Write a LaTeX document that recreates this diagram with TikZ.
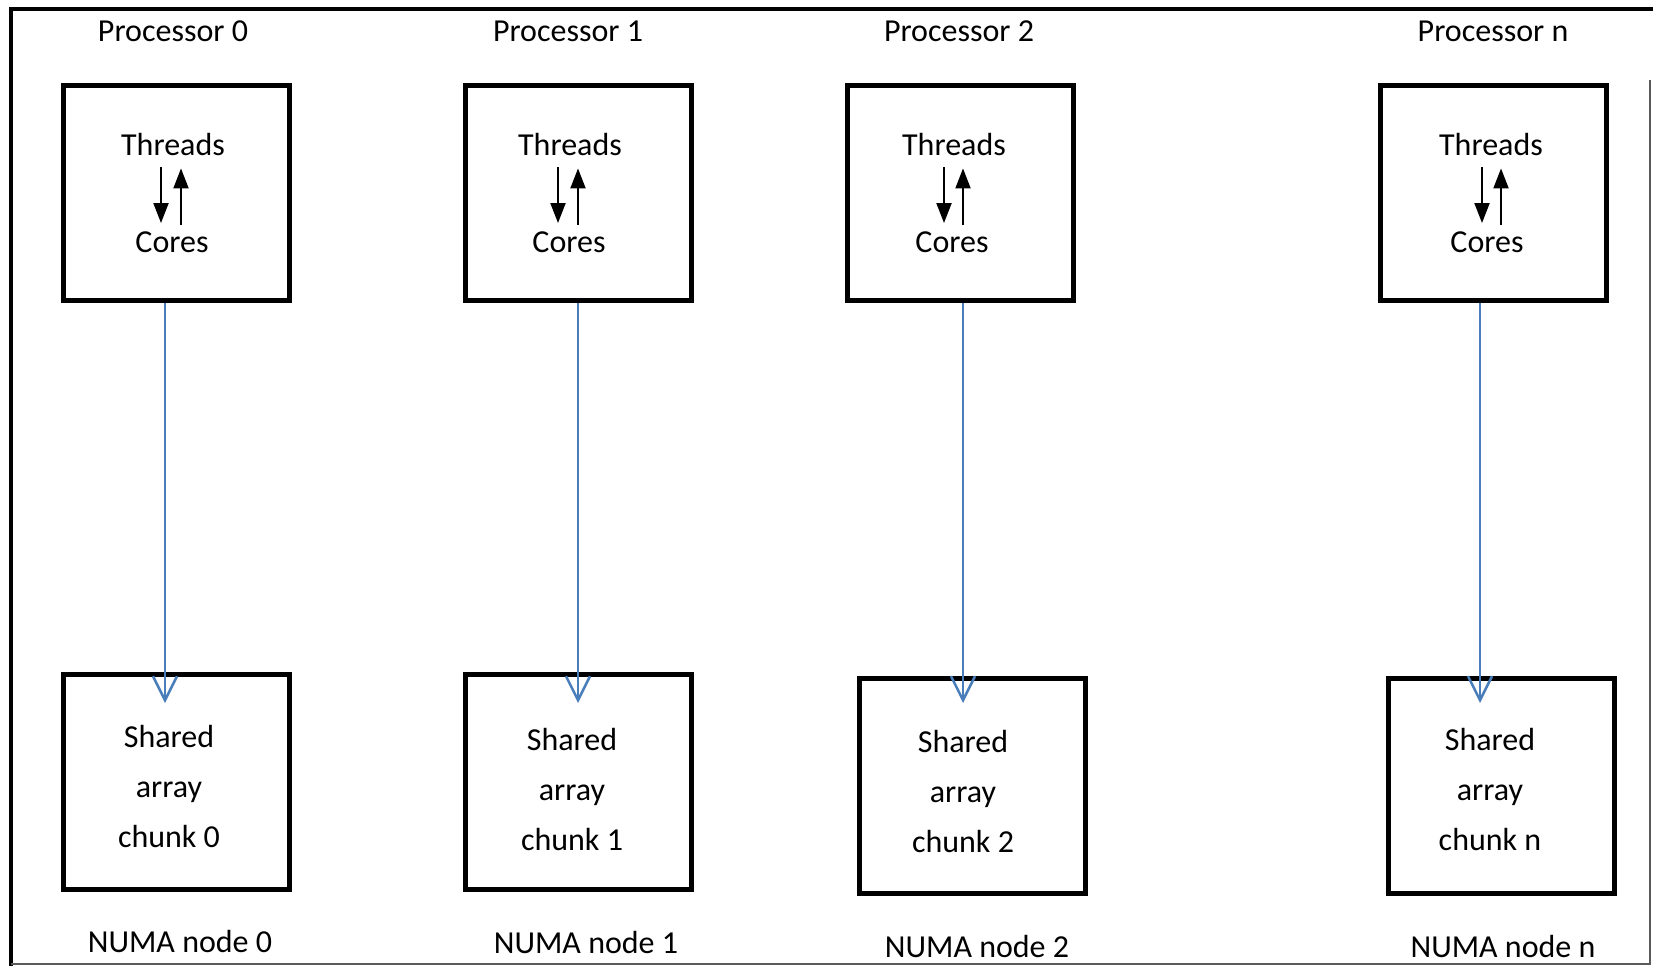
\documentclass[tikz,border=0pt]{standalone}
\usepackage{fontspec}
\setmainfont{Carlito}
\usetikzlibrary{arrows.meta}
\definecolor{linkblue}{RGB}{74,126,187}
\definecolor{framegray}{RGB}{90,90,90}

\begin{document}
\begin{tikzpicture}[x=1pt,y=-1pt,
  txt/.style={font=\fontsize{32}{50}\selectfont, inner sep=0pt, anchor=base},
  unit/.style={draw, line width=5pt, minimum width=226pt, minimum height=215pt, inner sep=0pt},
  link/.style={draw=linkblue, line width=2.5pt, -{Straight Barb[length=24pt,width=24pt]}},
  swapdown/.style={line width=2pt, -{Triangle[length=20pt,width=15pt]}, shorten <=11pt, shorten >=9pt},
  swapup/.style={line width=2pt, -{Triangle[length=20pt,width=15pt]}, shorten <=7pt, shorten >=12pt}]

% canvas and outer frame
\fill[white] (0,0) rectangle (1653,968);
\useasboundingbox (0,0) rectangle (1653,968);
\draw[line width=4pt] (1653,9.5) -- (10.5,9.5) -- (10.5,966);
\draw[framegray, line width=2pt] (10.5,964) -- (1650,964) -- (1650,80);

% ---- processor 0 ----
\node[txt] (proc0) at (173,42) {Processor 0};
\node[unit] (cpu0) at (176.5,193) {};
\node[txt] (thr0) at (173,156) {Threads};
\node[txt] (cor0) at (172,253) {Cores};
\coordinate (dn0) at (161,0);
\coordinate (up0) at (181,0);
\coordinate (ln0) at (165,0);
\draw[swapdown] (thr0.south -| dn0) -- (cor0.north -| dn0);
\draw[swapup] (cor0.north -| up0) -- (thr0.south -| up0);
\node[unit] (mem0) at (176.5,782) {};
\node[txt, align=center, anchor=north] (arr0) at (169,725) {Shared\\array\\chunk 0};
\node[txt] (numa0) at (180,952) {NUMA node 0};
\draw[link, shorten >=-31pt] (cpu0.south -| ln0) -- (mem0.north -| ln0);

% ---- processor 1 ----
\node[txt] (proc1) at (568,42) {Processor 1};
\node[unit] (cpu1) at (578,193) {};
\node[txt] (thr1) at (570,156) {Threads};
\node[txt] (cor1) at (569,253) {Cores};
\coordinate (dn1) at (558,0);
\coordinate (up1) at (578,0);
\coordinate (ln1) at (578,0);
\draw[swapdown] (thr1.south -| dn1) -- (cor1.north -| dn1);
\draw[swapup] (cor1.north -| up1) -- (thr1.south -| up1);
\node[unit] (mem1) at (578,782) {};
\node[txt, align=center, anchor=north] (arr1) at (572,728) {Shared\\array\\chunk 1};
\node[txt] (numa1) at (586,953) {NUMA node 1};
\draw[link, shorten >=-31pt] (cpu1.south -| ln1) -- (mem1.north -| ln1);

% ---- processor 2 ----
\node[txt] (proc2) at (959,42) {Processor 2};
\node[unit] (cpu2) at (960,193) {};
\node[txt] (thr2) at (954,156) {Threads};
\node[txt] (cor2) at (952,253) {Cores};
\coordinate (dn2) at (944,0);
\coordinate (up2) at (963,0);
\coordinate (ln2) at (963,0);
\draw[swapdown] (thr2.south -| dn2) -- (cor2.north -| dn2);
\draw[swapup] (cor2.north -| up2) -- (thr2.south -| up2);
\node[unit] (mem2) at (972,786) {};
\node[txt, align=center, anchor=north] (arr2) at (963,730) {Shared\\array\\chunk 2};
\node[txt] (numa2) at (977,957) {NUMA node 2};
\draw[link, shorten >=-27pt] (cpu2.south -| ln2) -- (mem2.north -| ln2);

% ---- processor n ----
\node[txt] (procn) at (1493,42) {Processor n};
\node[unit] (cpun) at (1493,193) {};
\node[txt] (thrn) at (1491,156) {Threads};
\node[txt] (corn) at (1487,253) {Cores};
\coordinate (dnn) at (1482,0);
\coordinate (upn) at (1501,0);
\coordinate (lnn) at (1480,0);
\draw[swapdown] (thrn.south -| dnn) -- (corn.north -| dnn);
\draw[swapup] (corn.north -| upn) -- (thrn.south -| upn);
\node[unit] (memn) at (1501.5,786) {};
\node[txt, align=center, anchor=north] (arrn) at (1490,728) {Shared\\array\\chunk n};
\node[txt] (numan) at (1503,957) {NUMA node n};
\draw[link, shorten >=-27pt] (cpun.south -| lnn) -- (memn.north -| lnn);
\end{tikzpicture}
\end{document}
